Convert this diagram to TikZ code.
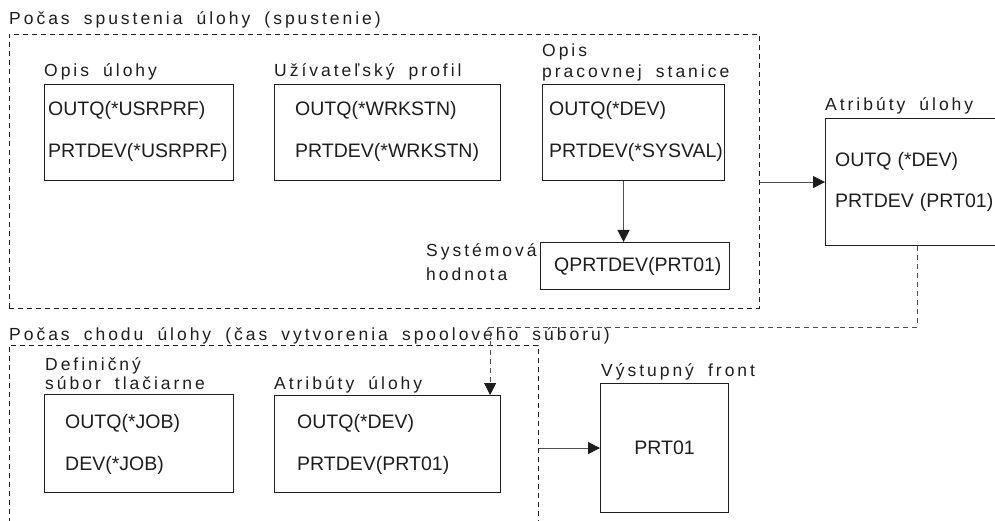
\documentclass[tikz,border=0pt]{standalone}
\usepackage{fontspec}
\setmainfont{Liberation Sans}
\newfontfamily\labfont[LetterSpace=17,WordSpace=1.8]{Liberation Sans}
\usetikzlibrary{arrows.meta}
\definecolor{ink}{HTML}{1E1E1E}
\definecolor{wire}{HTML}{505050}
\tikzset{
  box/.style={draw=ink, line width=1.1pt, anchor=north west, inner sep=0pt},
  group/.style={draw=ink, line width=0.9pt, dash pattern=on 5pt off 4pt, anchor=north west, inner sep=0pt},
  txt/.style={anchor=west, inner sep=0pt, text=ink, font=\fontsize{19.5}{22}\selectfont},
  lab/.style={anchor=base west, inner sep=0pt, text=ink, font=\labfont\fontsize{17.5}{20}\selectfont},
  flow/.style={draw=wire, line width=1pt, -{Triangle[length=12pt,width=12pt,color=ink]}},
  dflow/.style={draw=wire, line width=0.9pt, dash pattern=on 5pt off 4pt, -{Triangle[length=12pt,width=12pt,color=ink]}}
}
\begin{document}
\begin{tikzpicture}[x=1pt,y=-1pt]
\useasboundingbox (0,0) rectangle (995,521);
\clip (0,0) rectangle (995,521);
\fill[white] (0,0) rectangle (995,521);

% --- job start group ---
\node[lab] (t1) at (9,25) {Počas spustenia úlohy (spustenie)};
\node[group, minimum width=750pt, minimum height=274pt] (launch) at (9,34) {};

\node[lab] (l1) at (44,77) {Opis úlohy};
\node[box, minimum width=189pt, minimum height=96pt] (jobd) at (44,84) {};
\node[txt] (jobd1) at (48,110) {OUTQ(*USRPRF)};
\node[txt] (jobd2) at (48,152) {PRTDEV(*USRPRF)};

\node[lab] (l2) at (274,77) {Užívateľský profil};
\node[box, minimum width=226pt, minimum height=96pt] (usr) at (274,84) {};
\node[txt] (usr1) at (295,110) {OUTQ(*WRKSTN)};
\node[txt] (usr2) at (295,152) {PRTDEV(*WRKSTN)};

\node[lab] (l3a) at (542,57) {Opis};
\node[lab] (l3b) at (542,78) {pracovnej stanice};
\node[box, minimum width=182pt, minimum height=96pt] (ws) at (542,84) {};
\node[txt] (ws1) at (549,110) {OUTQ(*DEV)};
\node[txt] (ws2) at (549,152) {PRTDEV(*SYSVAL)};

\node[lab] (l4a) at (426,257) {Systémová};
\node[lab] (l4b) at (426,280) {hodnota};
\node[box, minimum width=189pt, minimum height=47pt] (sysv) at (540,242) {};
\node[txt] (sysv1) at (554,266) {QPRTDEV(PRT01)};

\coordinate (wsdrop) at ([xshift=-10pt]ws.south);
\draw[flow] (wsdrop) -- (wsdrop |- sysv.north);

% --- resulting job attributes ---
\node[lab] (l5) at (825,111) {Atribúty úlohy};
\node[box, minimum width=200pt, minimum height=127pt] (attr) at (825,118) {};
\node[txt] (attr1) at (835,161) {OUTQ\hspace{6pt}(*DEV)};
\node[txt] (attr2) at (835,202) {PRTDEV\hspace{6pt}(PRT01)};

\draw[flow] (launch.east |- attr.west) -- (attr.west);

% --- job run group ---
\node[lab] (t2) at (9,340) {Počas chodu úlohy (čas vytvorenia spoolového súboru)};
\node[group, minimum width=529pt, minimum height=200pt] (run) at (9,345) {};

\node[lab] (l6a) at (45,370) {Definičný};
\node[lab] (l6b) at (45,389) {súbor tlačiarne};
\node[box, minimum width=189pt, minimum height=98pt] (prtf) at (44,394) {};
\node[txt] (prtf1) at (65,423) {OUTQ(*JOB)};
\node[txt] (prtf2) at (65,465) {DEV(*JOB)};

\node[lab] (l7) at (274,389) {Atribúty úlohy};
\node[box, minimum width=226pt, minimum height=97pt] (rattr) at (274,395) {};
\node[txt] (rattr1) at (297,423) {OUTQ(*DEV)};
\node[txt] (rattr2) at (297,465) {PRTDEV(PRT01)};

\coordinate (carry) at ([xshift=92pt]attr.south west);
\coordinate (bend) at (0,327);
\coordinate (rdrop) at ([xshift=-11pt]rattr.north east);
\draw[dflow] (carry) -- (carry |- bend) -- (rdrop |- bend) -- (rdrop);

% --- output queue ---
\node[lab] (l8) at (601,376) {Výstupný front};
\node[box, minimum width=128pt, minimum height=129pt] (outq) at (600,383) {};
\node[anchor=center, inner sep=0pt, text=ink, font=\fontsize{19.5}{22}\selectfont] (outq1) at (outq.center) {PRT01};

\draw[flow] (run.east |- outq.west) -- (outq.west);
\end{tikzpicture}
\end{document}
